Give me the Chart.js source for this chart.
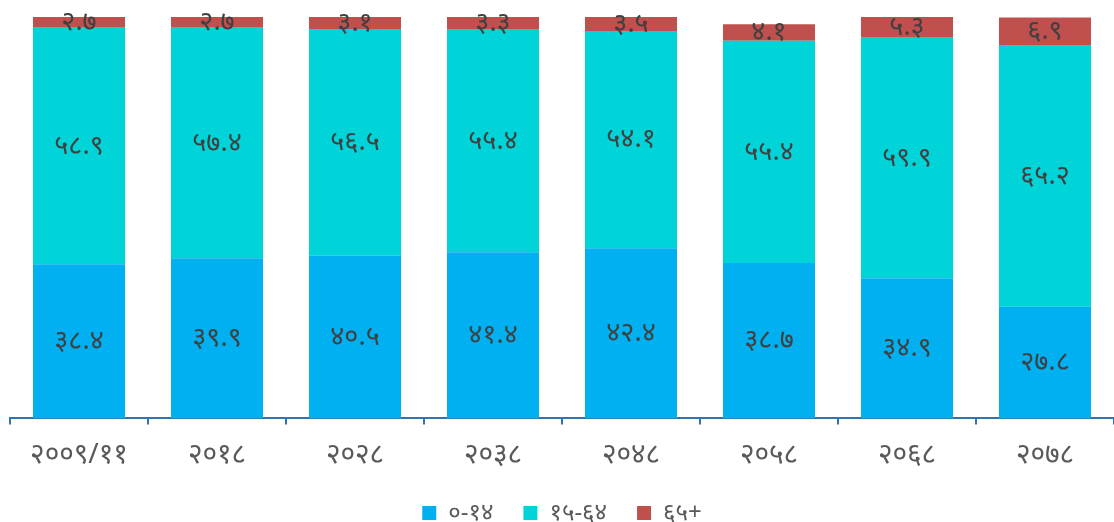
<!DOCTYPE html>
<html>
<head>
<meta charset="utf-8">
<script src="https://cdn.jsdelivr.net/npm/chart.js@4/dist/chart.umd.min.js"></script>
<style>
html,body{margin:0;padding:0;background:#fff;}
#wrap{width:1114px;height:522px;position:relative;}
</style>
</head>
<body>
<div id="wrap"><canvas id="c"></canvas></div>
<script>
const categories = ['२००९/११','२०१८','२०२८','२०३८','२०४८','२०५८','२०६८','२०७८'];
const seriesNames = ['०-१४','१५-६४','६५+'];
const age0to14 = [38.4, 39.9, 40.5, 41.4, 42.4, 38.7, 34.9, 27.8];
const age15to64 = [58.9, 57.4, 56.5, 55.4, 54.1, 55.4, 59.9, 65.2];
const age65plus = [2.7, 2.7, 3.1, 3.3, 3.5, 4.1, 5.3, 6.9];
const colors = ['#00b0f0', '#00d4d8', '#c0504d'];

const devDigits = '०१२३४५६७८९';
function toDev(v){
  return v.toFixed(1).replace(/[0-9]/g, d => devDigits[+d]);
}

const FONT = "'Noto Sans', 'Noto Sans Devanagari', 'Lohit Devanagari', sans-serif";

const labelPlugin = {
  id: 'barLabels',
  afterDatasetsDraw(chart){
    const ctx = chart.ctx;
    ctx.save();
    ctx.fillStyle = '#404040';
    ctx.font = '27px ' + FONT;
    ctx.textAlign = 'center';
    ctx.textBaseline = 'middle';
    chart.data.datasets.forEach((ds, i) => {
      const meta = chart.getDatasetMeta(i);
      meta.data.forEach((bar, j) => {
        const y = (bar.y + bar.base) / 2;
        ctx.fillText(toDev(ds.data[j]), bar.x, y);
      });
    });
    ctx.restore();
  }
};

new Chart(document.getElementById('c'), {
  type: 'bar',
  data: {
    labels: categories,
    datasets: [
      {label: seriesNames[0], data: age0to14, backgroundColor: colors[0]},
      {label: seriesNames[1], data: age15to64, backgroundColor: colors[1]},
      {label: seriesNames[2], data: age65plus, backgroundColor: colors[2]}
    ]
  },
  options: {
    responsive: true,
    maintainAspectRatio: false,
    animation: false,
    layout: {padding: {top: 17, left: 10, right: 0, bottom: -13}},
    datasets: {bar: {categoryPercentage: 1, barPercentage: 0.667}},
    scales: {
      x: {
        stacked: true,
        grid: {drawOnChartArea: false, drawTicks: true, tickLength: 6, color: '#2e75b6', lineWidth: 2},
        border: {color: '#2e75b6', width: 2},
        ticks: {color: '#595959', font: {size: 28, family: FONT}, padding: 14},
        afterFit(scale){ scale.height -= 15; }
      },
      y: {
        stacked: true, min: 0, max: 100, display: false
      }
    },
    plugins: {
      legend: {
        position: 'bottom',
        labels: {boxWidth: 14, boxHeight: 14, color: '#595959', font: {size: 24, family: FONT}, padding: 30}
      },
      tooltip: {enabled: false}
    }
  },
  plugins: [labelPlugin]
});
</script>
</body>
</html>
